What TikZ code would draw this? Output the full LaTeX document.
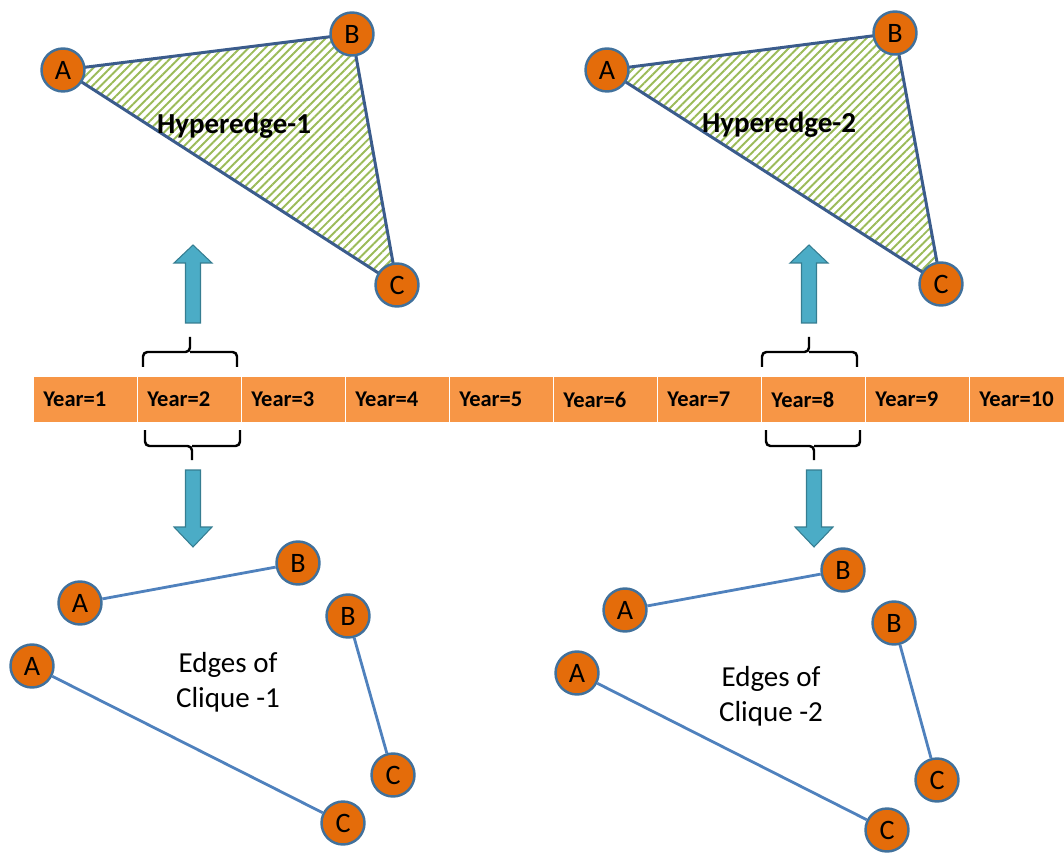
\documentclass[tikz,border=0pt]{standalone}
\usepackage{fontspec}
\setmainfont{Carlito}
\usetikzlibrary{patterns.meta,backgrounds}
\definecolor{vtxfill}{HTML}{E46C0A}
\definecolor{vtxline}{HTML}{41719C}
\definecolor{barfill}{HTML}{F79646}
\definecolor{hypline}{HTML}{3B5C8C}
\definecolor{hatch}{HTML}{9BBB59}
\definecolor{clqline}{HTML}{4F81BD}
\definecolor{arrfill}{HTML}{4BACC6}
\definecolor{arrline}{HTML}{357D91}
\tikzset{
    vtx/.style={circle, draw=vtxline, fill=vtxfill, line width=1.4pt, minimum size=0.86cm, inner sep=0pt, font=\fontsize{16}{18}\selectfont},
    hyper/.style={draw=hypline, line width=1.7pt, pattern={Lines[angle=45,distance=3.4pt,line width=1.1pt]}, pattern color=hatch},
    clqedge/.style={draw=clqline, line width=1.6pt},
    yearcell/.style={rectangle, draw=white, line width=0.8pt, fill=barfill, minimum width=2.08cm, minimum height=0.92cm, inner sep=0pt, anchor=north west},
    yearlbl/.style={font=\bfseries\fontsize{12.8}{15}\selectfont, anchor=west, inner sep=0pt},
    brk/.style={draw=black, line width=1.4pt, rounded corners=2.5pt},
    blk/.style={fill=arrfill, draw=arrline, line width=0.6pt}
}

\begin{document}
\begin{tikzpicture}[x=0.02cm, y=-0.02cm]
    \useasboundingbox (0,0) rectangle (1064,854);

    \foreach \k in {1,...,10}
    {
        \node[yearcell] (y\k) at ({33+(\k-1)*104}, 376) {};
        \node[yearlbl] (t\k) at ([xshift=0.2cm]y\k.west) {Year=\k};
    }

    \node[vtx] (h1a) at (63, 70) {A};
    \node[vtx] (h1b) at (352, 34) {B};
    \node[vtx] (h1c) at (397, 285) {C};
    \node[vtx] (h2a) at (607, 70) {A};
    \node[vtx] (h2b) at (895, 33) {B};
    \node[vtx] (h2c) at (941, 284) {C};
    \begin{scope}[on background layer]
        \filldraw[hyper] (h1a.center) -- (h1b.center) -- (h1c.center) -- cycle;
        \filldraw[hyper] (h2a.center) -- (h2b.center) -- (h2c.center) -- cycle;
    \end{scope}
    \node[font=\bfseries\fontsize{16.5}{19}\selectfont] (hl1) at (234, 126) {Hyperedge-1};
    \node[font=\bfseries\fontsize{16.5}{19}\selectfont] (hl2) at (779, 125) {Hyperedge-2};

    \foreach \ax in {193, 809}
    {
        \filldraw[blk] (\ax, 245) -- ({\ax+19}, 263) -- ({\ax+7.5}, 263) -- ({\ax+7.5}, 323) -- ({\ax-7.5}, 323) -- ({\ax-7.5}, 263) -- ({\ax-19}, 263) -- cycle;
    }
    \foreach \ax in {193, 814}
    {
        \filldraw[blk] (\ax, 547) -- ({\ax+19}, 527) -- ({\ax+7.5}, 527) -- ({\ax+7.5}, 470) -- ({\ax-7.5}, 470) -- ({\ax-7.5}, 527) -- ({\ax-19}, 527) -- cycle;
    }

    \foreach \l/\m/\r in {143/190/237, 762/809/857}
    {
        \draw[brk] (\l, 367) |- (\m, 352) -- (\m, 337);
        \draw[brk] (\m, 352) -| (\r, 367);
    }
    \foreach \l/\m/\r in {145/192/240, 766/814/860}
    {
        \draw[brk] (\l, 430) |- (\m, 446) -- (\m, 460);
        \draw[brk] (\m, 446) -| (\r, 430);
    }

    \node[vtx] (c1a1) at (80, 603) {A};
    \node[vtx] (c1b1) at (298, 563) {B};
    \node[vtx] (c1b2) at (348, 616) {B};
    \node[vtx] (c1c2) at (393, 775) {C};
    \node[vtx] (c1a3) at (32, 666) {A};
    \node[vtx] (c1c3) at (343, 823) {C};
    \draw[clqedge] (c1a1) -- (c1b1);
    \draw[clqedge] (c1b2) -- (c1c2);
    \draw[clqedge] (c1a3) -- (c1c3);
    \node[align=center, font=\fontsize{16.5}{20}\selectfont] (cl1) at (228, 682) {Edges of\\Clique -1};

    \node[vtx] (c2a1) at (625, 610) {A};
    \node[vtx] (c2b1) at (843, 570) {B};
    \node[vtx] (c2b2) at (894, 623) {B};
    \node[vtx] (c2c2) at (937, 780) {C};
    \node[vtx] (c2a3) at (577, 673) {A};
    \node[vtx] (c2c3) at (887, 830) {C};
    \draw[clqedge] (c2a1) -- (c2b1);
    \draw[clqedge] (c2b2) -- (c2c2);
    \draw[clqedge] (c2a3) -- (c2c3);
    \node[align=center, font=\fontsize{16.5}{20}\selectfont] (cl2) at (771, 696) {Edges of\\Clique -2};
\end{tikzpicture}
\end{document}
